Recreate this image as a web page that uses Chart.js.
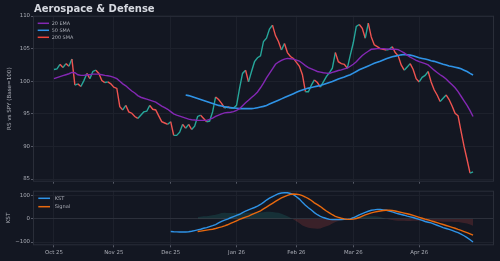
<!DOCTYPE html>
<html>
<head>
<meta charset="utf-8">
<script src="https://cdn.jsdelivr.net/npm/chart.js@4.4.1/dist/chart.umd.min.js"></script>
<style>
    html, body { margin: 0; padding: 0; background: #131722; }
    body { width: 500px; height: 261px; position: relative; overflow: hidden; }
    canvas { position: absolute; left: 0; }
    #rsChart { top: 0; }
    #kstChart { top: 186px; }
</style>
</head>
<body>
<canvas id="rsChart" width="500" height="186"></canvas>
<canvas id="kstChart" width="500" height="75"></canvas>
<script>
// x axis = trading day index, month ticks sit on first trading day of each month
const monthTicks = [0, 20, 39, 61, 81, 100, 122];
const monthLabels = ["Oct 25", "Nov 25", "Dec 25", "Jan 26", "Feb 26", "Mar 26", "Apr 26"];

// Relative strength vs SPY (base = 100)
const rs = [
    101.8, 101.9, 102.6, 102.1, 102.7, 102.3, 103.4, 99.4, 99.6, 99.2,
    100.1, 101.2, 100.4, 101.5, 101.7, 101.2, 100.1, 99.8, 99.9, 99.6,
    99.1, 98.9, 96.1, 95.6, 96.3, 95.3, 95.1, 94.6, 94.3, 94.8,
    95.3, 95.4, 96.3, 95.7, 95.6, 94.7, 93.8, 93.6, 93.4, 93.8,
    91.7, 91.7, 92.2, 93.4, 92.8, 93.4, 92.6, 93.1, 94.6, 94.8,
    94.3, 93.8, 93.9, 95.3, 97.6, 97.2, 96.6, 95.9, 96.1, 95.9,
    95.9, 96.3, 98.9, 101.2, 101.7, 99.9, 101.5, 103.0, 103.6, 103.9,
    106.1, 106.6, 108.0, 108.6, 107.0, 106.1, 104.8, 105.8, 104.4, 103.8,
    103.5, 102.9, 102.3, 101.0, 98.4, 98.4, 99.4, 100.2, 99.8, 99.1,
    99.9, 100.7, 101.3, 102.0, 104.4, 103.0, 102.7, 102.6, 102.0, 104.0,
    105.9, 108.4, 108.7, 108.1, 106.6, 108.9, 106.8, 105.6, 105.3, 105.0,
    104.9, 104.8, 104.9, 105.3, 104.4, 103.9, 102.5, 101.7, 102.2, 102.7,
    101.8, 100.4, 99.9, 100.6, 100.9, 101.5, 99.9, 98.7, 97.9, 96.9,
    97.4, 97.9, 97.2, 96.2, 95.1, 94.7, 92.3, 90.0, 88.0, 85.9,
    86.1
];

const ema20 = [
    100.4, 100.55, 100.7, 100.85, 101.0, 101.15, 101.35, 101.3, 101.0, 100.9,
    100.9, 101.0, 101.0, 101.1, 101.1, 101.1, 101.0, 100.9, 100.85, 100.75,
    100.6, 100.4, 100.0, 99.6, 99.3, 98.9, 98.5, 98.2, 97.8, 97.55,
    97.4, 97.25, 97.1, 96.95, 96.8, 96.5, 96.2, 95.95, 95.7, 95.35,
    95.0, 94.8, 94.65, 94.5, 94.35, 94.2, 94.1, 94.05, 94.0, 94.0,
    94.0, 94.0, 94.15, 94.35, 94.6, 94.8, 95.0, 95.15, 95.2, 95.25,
    95.35, 95.55, 95.8, 96.25, 96.7, 97.1, 97.5, 97.9, 98.35, 99.0,
    99.7, 100.5, 101.2, 101.9, 102.6, 102.95, 103.2, 103.4, 103.5, 103.45,
    103.4, 103.25, 103.1, 102.75, 102.4, 102.1, 101.9, 101.7, 101.5, 101.4,
    101.3, 101.25, 101.2, 101.35, 101.5, 101.65, 101.75, 101.9, 102.0, 102.3,
    102.6, 103.0, 103.5, 103.95, 104.3, 104.6, 104.9, 104.95, 105.0, 105.0,
    105.0, 104.95, 104.9, 104.9, 104.9, 104.85, 104.6, 104.35, 104.0, 103.7,
    103.45, 103.2, 103.0, 102.85, 102.7, 102.5, 102.1, 101.7, 101.35, 101.0,
    100.7, 100.35, 99.9, 99.45, 99.0, 98.4, 97.7, 97.0, 96.3, 95.5,
    94.6
];

// 50 SMA only exists from day 44 on
const sma50Start = 44;
const sma50Values = [
    97.9, 97.8, 97.65, 97.5, 97.35, 97.2, 97.05, 96.9, 96.75, 96.6,
    96.45, 96.3, 96.2, 96.1, 96.0, 95.95, 95.9, 95.85, 95.8, 95.8,
    95.8, 95.8, 95.8, 95.85, 95.95, 96.05, 96.15, 96.3, 96.5, 96.7,
    96.9, 97.1, 97.3, 97.5, 97.7, 97.9, 98.1, 98.3, 98.5, 98.65,
    98.8, 98.95, 99.05, 99.15, 99.25, 99.35, 99.5, 99.65, 99.8, 99.95,
    100.15, 100.35, 100.5, 100.65, 100.85, 101.0, 101.25, 101.5, 101.75, 101.95,
    102.15, 102.35, 102.55, 102.75, 102.9, 103.05, 103.25, 103.45, 103.6, 103.75,
    103.85, 103.95, 104.05, 104.1, 104.05, 104.0, 103.9, 103.75, 103.6, 103.5,
    103.4, 103.3, 103.15, 103.05, 102.9, 102.75, 102.6, 102.5, 102.35, 102.25,
    102.15, 102.05, 101.9, 101.7, 101.5, 101.2, 100.95
];

// not enough history for the 200 SMA in this window
const sma200 = [];

// KST oscillator
const kstStart = 39;
const kstValues = [
    -55, -56, -56.5, -57, -57, -57, -56, -54, -51, -48,
    -45, -41, -38, -34, -30, -25, -18, -11, -6, -2,
    4, 9, 14, 19, 26, 32, 38, 43, 48, 54,
    61, 70, 80, 88, 95, 101, 107, 110, 111, 111,
    108, 103, 94, 84, 70, 58, 47, 37, 26, 17,
    10, 5, 1, -3, -4, -4, -4, -4, -3, -3,
    -1, 4, 10, 16, 22, 27, 32, 36, 38, 40,
    40, 38, 36, 33, 29, 25, 21, 18, 15, 11,
    8, 5, 1, -3, -7, -12, -15, -18, -23, -28,
    -33, -38, -42, -46, -50, -55, -60, -66, -73, -81,
    -90, -100
];

const signalStart = 48;
const signalValues = [
    -55, -53, -51, -49, -47, -45, -42, -38, -35, -31,
    -26, -20, -15, -9, -3, 2, 7, 11, 17, 23,
    28, 34, 42, 50, 58, 66, 74, 82, 89, 95,
    100, 104, 106, 105, 103, 99, 93, 86, 78, 68,
    60, 52, 42, 33, 25, 17, 10, 6, 2, -1,
    -3, -3, -2, 1, 5, 11, 16, 21, 25, 28,
    31, 33, 35, 36, 36, 35, 33, 30, 27, 24,
    21, 18, 14, 10, 6, 2, -2, -5, -9, -13,
    -17, -21, -25, -29, -33, -37, -41, -46, -50, -55,
    -60, -65, -70
];

// shaded KST minus signal area
const histValues = [
    7, 8, 10, 11, 13, 15, 17, 20, 24, 25,
    24, 24, 24, 23, 22, 24, 25, 27, 26, 25,
    26, 27, 28, 30, 30, 29, 27, 25, 21, 16,
    11, 4, -3, -11, -19, -29, -35, -39, -41, -42,
    -43, -42, -37, -32, -28, -21, -14, -10, -6, -2,
    0, 2, 6, 9, 11, 11, 11, 11, 11, 10,
    9, 7, 3, 0, -3, -6, -8, -9, -9, -9,
    -10, -10, -9, -9, -9, -9, -10, -10, -9, -10,
    -11, -12, -13, -13, -13, -13, -14, -14, -16, -18,
    -21, -25, -30
];

const days = rs.map((_, i) => i);
const padFront = (start, values) => Array(start).fill(null).concat(values);

const COLORS = {
    bg: "#131722",
    frame: "#2a2e39",
    grid: "#1d212c",
    tick: "#555966",
    text: "#a9acb5",
    title: "#d6d9e0",
    up: "#26a69a",
    down: "#ef5350",
    ema: "#8428b4",
    sma50: "#2f93e6",
    sma200: "#f0453a",
    kst: "#2f93e6",
    signal: "#e8690e",
};

Chart.defaults.font.family = '"DejaVu Sans", sans-serif';
Chart.defaults.color = COLORS.text;

// frame, legend and title, drawn like the matplotlib panels
const panelDecor = {
    id: "panelDecor",
    beforeDatasetsDraw(chart) {
        const { ctx, chartArea: a } = chart;
        ctx.save();
        ctx.strokeStyle = COLORS.frame;
        ctx.lineWidth = 1;
        ctx.strokeRect(a.left + 0.5, a.top + 0.5, a.right - a.left - 1, a.bottom - a.top - 1);
        ctx.restore();
    },
    afterDatasetsDraw(chart, args, opts) {
        const ctx = chart.ctx;
        const lg = opts.legend;
        ctx.save();
        ctx.font = lg.size + 'px "DejaVu Sans"';
        ctx.textBaseline = "middle";
        ctx.textAlign = "left";
        let y = lg.y;
        chart.data.datasets.forEach(function (ds) {
            if (ds.inLegend === false) return;
            ctx.fillStyle = ds.borderColor;
            ctx.fillRect(lg.x, y - 0.75, lg.boxWidth, 1.5);
            ctx.fillStyle = COLORS.text;
            ctx.fillText(ds.label, lg.x + lg.boxWidth + lg.gap, y);
            y += lg.rowGap;
        });
        if (opts.title) {
            ctx.font = 'bold 10px "DejaVu Sans"';
            ctx.textBaseline = "alphabetic";
            ctx.fillStyle = COLORS.title;
            ctx.fillText(opts.title, 34, 12);
        }
        ctx.restore();
    },
};

const monthLabel = function (value) {
    const k = monthTicks.indexOf(value);
    return k >= 0 ? monthLabels[k] : "";
};

const xAxis = function (showLabels, height) {
    return {
        type: "linear",
        min: -7,
        max: 147,
        afterBuildTicks: (axis) => {
            axis.ticks = monthTicks.map((v) => ({ value: v }));
        },
        afterFit: (axis) => {
            axis.height = height;
        },
        ticks: {
            autoSkip: false,
            maxRotation: 0,
            padding: 2,
            font: { size: 5.4 },
            callback: (v) => (showLabels ? monthLabel(v) : ""),
        },
        grid: { color: COLORS.grid, tickColor: COLORS.tick, tickLength: 2 },
        border: { display: false },
    };
};

const minusSign = (v) => String(v).replace("-", "\u2212");

// top panel: RS line with moving averages
new Chart(document.getElementById("rsChart"), {
    type: "line",
    data: {
        labels: days,
        datasets: [
            {
                label: "20 EMA",
                data: ema20,
                borderColor: COLORS.ema,
                borderWidth: 1.4,
            },
            {
                label: "50 SMA",
                data: padFront(sma50Start, sma50Values),
                borderColor: COLORS.sma50,
                borderWidth: 1.6,
            },
            {
                label: "200 SMA",
                data: sma200,
                borderColor: COLORS.sma200,
                borderWidth: 1.6,
            },
            {
                label: "RS",
                inLegend: false,
                data: rs,
                borderColor: COLORS.up,
                borderWidth: 1.4,
                segment: {
                    borderColor: (ctx) => (ctx.p1.parsed.y >= ctx.p0.parsed.y ? COLORS.up : COLORS.down),
                },
            },
        ],
    },
    options: {
        responsive: false,
        animation: false,
        devicePixelRatio: 1,
        layout: { padding: { top: 15.7, right: 6, left: 0, bottom: 0 } },
        elements: { point: { radius: 0 }, line: { tension: 0 } },
        plugins: {
            legend: { display: false },
            tooltip: { enabled: false },
            panelDecor: {
                title: "Aerospace & Defense",
                legend: { x: 37.7, y: 23.3, rowGap: 7, boxWidth: 11.3, gap: 2.7, size: 4.9 },
            },
        },
        scales: {
            x: xAxis(false, 4.3),
            y: {
                min: 84.6,
                max: 110.05,
                afterFit: (axis) => {
                    axis.width = 33;
                },
                ticks: { stepSize: 5, includeBounds: false, padding: 1, font: { size: 5.4 } },
                grid: { color: COLORS.grid, tickColor: COLORS.tick, tickLength: 2 },
                border: { display: false },
                title: {
                    display: true,
                    text: "RS vs SPY (Base=100)",
                    color: COLORS.text,
                    font: { size: 5.6 },
                    padding: { top: 6.5, bottom: 0 },
                },
            },
        },
    },
    plugins: [panelDecor],
});

// bottom panel: KST with signal line
new Chart(document.getElementById("kstChart"), {
    type: "line",
    data: {
        labels: days,
        datasets: [
            {
                label: "KST",
                data: padFront(kstStart, kstValues),
                borderColor: COLORS.kst,
                borderWidth: 1.4,
                order: 1,
            },
            {
                label: "Signal",
                data: padFront(signalStart, signalValues),
                borderColor: COLORS.signal,
                borderWidth: 1.4,
                order: 0,
            },
            {
                label: "Hist",
                inLegend: false,
                data: padFront(signalStart, histValues),
                borderWidth: 0,
                borderColor: "rgba(0,0,0,0)",
                fill: {
                    target: "origin",
                    above: "rgba(38, 166, 154, 0.18)",
                    below: "rgba(239, 83, 80, 0.18)",
                },
                order: 2,
            },
        ],
    },
    options: {
        responsive: false,
        animation: false,
        devicePixelRatio: 1,
        layout: { padding: { top: 4.7, right: 6, left: 0, bottom: 0 } },
        elements: { point: { radius: 0 }, line: { tension: 0 } },
        plugins: {
            legend: { display: false },
            tooltip: { enabled: false },
            panelDecor: {
                legend: { x: 38.3, y: 12.3, rowGap: 8.4, boxWidth: 11.7, gap: 4.7, size: 5.1 },
            },
        },
        scales: {
            x: xAxis(true, 15.7),
            y: {
                min: -114,
                max: 120,
                afterFit: (axis) => {
                    axis.width = 33;
                },
                ticks: {
                    stepSize: 100,
                    includeBounds: false,
                    padding: 1,
                    font: { size: 5.4 },
                    callback: (v) => minusSign(v),
                },
                grid: {
                    color: (ctx) => (ctx.tick && ctx.tick.value === 0 ? "#2c303b" : COLORS.grid),
                    tickColor: COLORS.tick,
                    tickLength: 2,
                },
                border: { display: false },
                title: {
                    display: true,
                    text: "KST",
                    color: COLORS.text,
                    font: { size: 5.6 },
                    padding: { top: 5, bottom: 0 },
                },
            },
        },
    },
    plugins: [panelDecor],
});
</script>
</body>
</html>
